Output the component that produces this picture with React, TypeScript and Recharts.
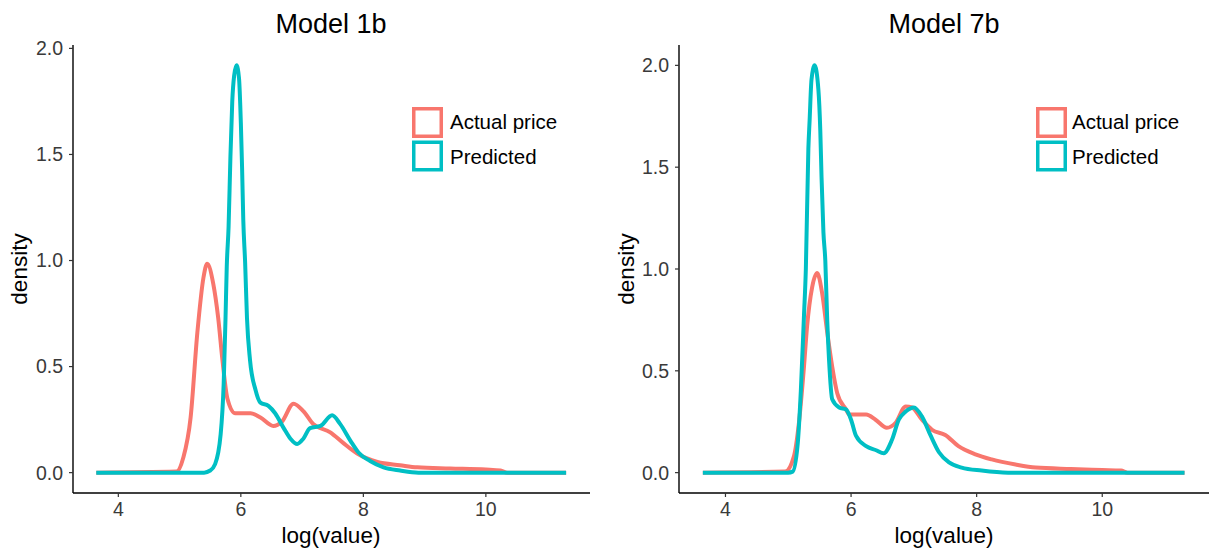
import { LineChart, Line, XAxis, YAxis } from 'recharts';

const RED = '#F8766D';
const TEAL = '#00BFC4';
const FONT = '"Liberation Sans", Arial, sans-serif';

const xTicks = [4, 6, 8, 10];
const yTicks = [0, 0.5, 1, 1.5, 2];
const seriesNames = ['Actual price', 'Predicted'];
const panelTitles = ['Model 1b', 'Model 7b'];

// Model 1b - actual price density
const m1ActualX = [3.64, 4.95, 5.06, 5.18, 5.29, 5.39, 5.45, 5.55, 5.63, 5.7, 5.78, 5.91, 6.16, 6.32, 6.53, 6.67, 6.86, 7.02, 7.18, 7.46, 7.67, 7.9, 8.23, 8.6, 8.88, 9.42, 10.0, 10.24, 10.35, 11.31];
const m1ActualY = [0, 0.005, 0.07, 0.26, 0.66, 0.92, 0.985, 0.89, 0.73, 0.53, 0.35, 0.28, 0.28, 0.26, 0.22, 0.24, 0.325, 0.29, 0.23, 0.19, 0.14, 0.09, 0.05, 0.035, 0.025, 0.02, 0.015, 0.01, 0, 0];

// Model 1b - predicted density
const m1PredX = [3.64, 5.4, 5.5, 5.58, 5.67, 5.72, 5.75, 5.77, 5.8, 5.83, 5.86, 5.89, 5.93, 5.97, 6.0, 6.02, 6.04, 6.07, 6.1, 6.15, 6.24, 6.32, 6.45, 6.56, 6.7, 6.81, 6.92, 7.02, 7.13, 7.3, 7.49, 7.62, 7.79, 7.92, 8.11, 8.33, 8.6, 8.9, 11.31];
const m1PredY = [0, 0, 0.01, 0.04, 0.18, 0.42, 0.73, 0.97, 1.16, 1.49, 1.75, 1.87, 1.92, 1.86, 1.65, 1.44, 1.19, 0.99, 0.73, 0.53, 0.39, 0.33, 0.315, 0.28, 0.21, 0.16, 0.135, 0.16, 0.21, 0.22, 0.27, 0.23, 0.15, 0.095, 0.055, 0.025, 0.01, 0, 0];

// Model 7b - actual price density
const m7ActualX = [3.64, 4.95, 5.09, 5.17, 5.25, 5.3, 5.38, 5.46, 5.54, 5.62, 5.7, 5.78, 5.92, 5.97, 6.24, 6.39, 6.57, 6.71, 6.87, 6.97, 7.13, 7.29, 7.5, 7.71, 7.98, 8.24, 8.62, 8.94, 9.5, 10.0, 10.3, 10.4, 11.31];
const m7ActualY = [0, 0.005, 0.08, 0.245, 0.52, 0.72, 0.91, 0.98, 0.88, 0.69, 0.52, 0.39, 0.31, 0.285, 0.285, 0.26, 0.22, 0.245, 0.325, 0.32, 0.26, 0.21, 0.185, 0.13, 0.09, 0.065, 0.04, 0.025, 0.018, 0.013, 0.01, 0, 0];

// Model 7b - predicted density
const m7PredX = [3.64, 5.0, 5.07, 5.15, 5.2, 5.25, 5.28, 5.32, 5.34, 5.37, 5.42, 5.48, 5.51, 5.53, 5.56, 5.59, 5.62, 5.65, 5.7, 5.81, 5.92, 6.0, 6.08, 6.24, 6.4, 6.52, 6.65, 6.76, 6.87, 7.0, 7.13, 7.27, 7.4, 7.56, 7.76, 8.08, 8.5, 11.31];
const m7PredY = [0, 0, 0.005, 0.14, 0.4, 0.77, 1.0, 1.59, 1.73, 1.93, 2.0, 1.88, 1.68, 1.45, 1.18, 1.04, 0.75, 0.55, 0.36, 0.32, 0.31, 0.26, 0.18, 0.13, 0.11, 0.095, 0.16, 0.26, 0.3, 0.32, 0.275, 0.18, 0.1, 0.05, 0.025, 0.01, 0, 0];

const toPoints = (xs: number[], ys: number[]) => xs.map((x, i) => ({ x, density: ys[i] }));

const tickStyle = { fontFamily: FONT, fontSize: 19.5, fill: '#3a3a3a' };

function Panel({
  width,
  yAxisWidth,
  marginRight,
  yDomain,
  actual,
  predicted,
}: {
  width: number;
  yAxisWidth: number;
  marginRight: number;
  yDomain: [number, number];
  actual: { x: number; density: number }[];
  predicted: { x: number; density: number }[];
}) {
  return (
    <LineChart width={width} height={550} margin={{ top: 45, right: marginRight, bottom: 27, left: 0 }}>
      <XAxis
        type="number"
        dataKey="x"
        domain={[3.26, 11.7]}
        ticks={xTicks}
        allowDataOverflow
        height={30}
        tick={tickStyle}
        tickSize={4}
        tickMargin={5}
        axisLine={{ stroke: '#000', strokeWidth: 1.4 }}
        tickLine={{ stroke: '#333', strokeWidth: 1.2 }}
      />
      <YAxis
        type="number"
        domain={yDomain}
        ticks={yTicks}
        allowDataOverflow
        width={yAxisWidth}
        tickFormatter={(v: number) => v.toFixed(1)}
        tick={tickStyle}
        tickSize={4}
        tickMargin={6}
        axisLine={{ stroke: '#000', strokeWidth: 1.4 }}
        tickLine={{ stroke: '#333', strokeWidth: 1.2 }}
      />
      <Line data={actual} dataKey="density" type="monotone" stroke={RED} strokeWidth={4} dot={false} isAnimationActive={false} />
      <Line data={predicted} dataKey="density" type="monotone" stroke={TEAL} strokeWidth={4} dot={false} isAnimationActive={false} />
    </LineChart>
  );
}

function Labels({ cx, yAxisX, legendX, textX, title }: { cx: number; yAxisX: number; legendX: number; textX: number; title: string }) {
  return (
    <g fontFamily={FONT}>
      <text x={cx} y={33} textAnchor="middle" fontSize={27} fill="#000">{title}</text>
      <text x={cx} y={543} textAnchor="middle" fontSize={22.5} fill="#000">log(value)</text>
      <text x={yAxisX} y={269} textAnchor="middle" fontSize={22.5} fill="#000" transform={`rotate(-90, ${yAxisX}, 269)`}>density</text>
      <rect x={legendX + 1.75} y={108.75} width={27.5} height={27.5} fill="none" stroke={RED} strokeWidth={3.5} />
      <rect x={legendX + 1.75} y={142.25} width={27.5} height={27.5} fill="none" stroke={TEAL} strokeWidth={3.5} />
      <text x={textX} y={129} fontSize={20.5} fill="#000">{seriesNames[0]}</text>
      <text x={textX} y={164} fontSize={20.5} fill="#000">{seriesNames[1]}</text>
    </g>
  );
}

export default function App() {
  return (
    <div style={{ position: 'absolute', left: 0, top: 0, width: 1209, height: 550, background: '#fff', overflow: 'hidden' }}>
      <div style={{ position: 'absolute', left: 0, top: 0 }}>
        <Panel width={600} yAxisWidth={73} marginRight={10} yDomain={[-0.096, 2.016]} actual={toPoints(m1ActualX, m1ActualY)} predicted={toPoints(m1PredX, m1PredY)} />
      </div>
      <div style={{ position: 'absolute', left: 600, top: 0 }}>
        <Panel width={609} yAxisWidth={79} marginRight={0} yDomain={[-0.1, 2.1]} actual={toPoints(m7ActualX, m7ActualY)} predicted={toPoints(m7PredX, m7PredY)} />
      </div>
      <svg width={1209} height={550} style={{ position: 'absolute', left: 0, top: 0, pointerEvents: 'none' }}>
        <Labels cx={331} yAxisX={27} legendX={412} textX={450} title={panelTitles[0]} />
        <Labels cx={944} yAxisX={634} legendX={1036} textX={1072} title={panelTitles[1]} />
      </svg>
    </div>
  );
}
